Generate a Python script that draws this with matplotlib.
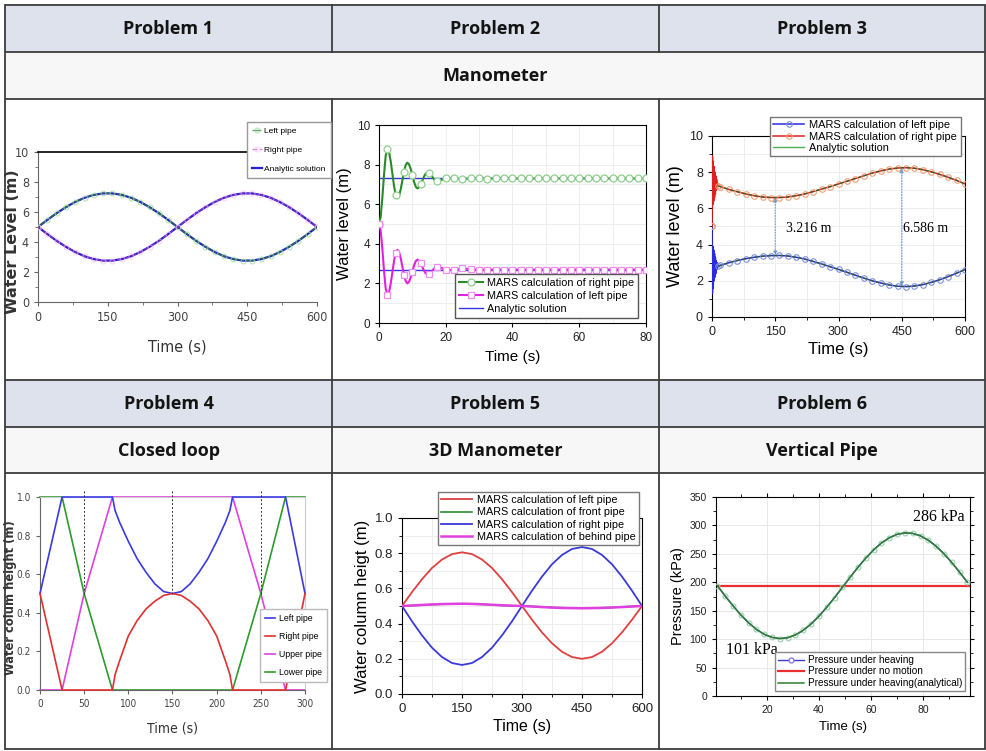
import numpy as np
import matplotlib
matplotlib.use("Agg")
import matplotlib.pyplot as plt
from matplotlib import font_manager as fm
from matplotlib.patches import Rectangle
from matplotlib.ticker import AutoMinorLocator, MultipleLocator

W, H = 987, 751

# ---------------- table texts ----------------
header_row1 = ["Problem 1", "Problem 2", "Problem 3"]
subtitle_row1 = "Manometer"
header_row2 = ["Problem 4", "Problem 5", "Problem 6"]
subtitle_row2 = ["Closed loop", "3D Manometer", "Vertical Pipe"]

# ---------------- Problem 1 ----------------
p1_time = np.arange(0, 601, 20)
p1_left = [5.00, 5.47, 5.92, 6.32, 6.67, 6.95, 7.14, 7.24, 7.24, 7.14, 6.95, 6.67, 6.32, 5.92, 5.47, 5.00,
           4.53, 4.08, 3.68, 3.33, 3.05, 2.86, 2.76, 2.76, 2.86, 3.05, 3.33, 3.68, 4.08, 4.53, 5.00]
p1_right = [5.00, 4.53, 4.08, 3.68, 3.33, 3.05, 2.86, 2.76, 2.76, 2.86, 3.05, 3.33, 3.68, 4.08, 4.53, 5.00,
            5.47, 5.92, 6.32, 6.67, 6.95, 7.14, 7.24, 7.24, 7.14, 6.95, 6.67, 6.32, 5.92, 5.47, 5.00]
p1_xticks = [0, 150, 300, 450, 600]
p1_yticks = [0, 2, 4, 6, 8, 10]

# ---------------- Problem 2 ----------------
p2_time = np.concatenate([np.arange(0, 20.01, 0.5), np.arange(22.5, 80.01, 2.5)])
p2_right = [5.0, 5.36, 6.31, 7.49, 8.44, 8.8, 8.63, 8.18, 7.55, 6.93, 6.47, 6.3, 6.42, 6.75, 7.2, 7.65,
            7.98, 8.1, 8.01, 7.78, 7.45, 7.13, 6.89, 6.8, 6.85, 7.0, 7.2, 7.4, 7.55, 7.6, 7.57, 7.49,
            7.38, 7.26, 7.18, 7.15, 7.16, 7.2, 7.25, 7.29, 7.3,
            7.33, 7.26, 7.3, 7.31, 7.29, 7.3, 7.3, 7.3, 7.3, 7.3, 7.3, 7.3, 7.3, 7.3, 7.3, 7.3,
            7.3, 7.3, 7.3, 7.3, 7.3, 7.3, 7.3, 7.3]
p2_left = [5.0, 4.66, 3.76, 2.64, 1.74, 1.4, 1.55, 1.98, 2.55, 3.13, 3.55, 3.7, 3.59, 3.28, 2.85, 2.43,
           2.11, 2.0, 2.08, 2.3, 2.6, 2.9, 3.12, 3.2, 3.15, 3.01, 2.83, 2.64, 2.5, 2.45, 2.48, 2.55,
           2.65, 2.75, 2.82, 2.85, 2.84, 2.8, 2.75, 2.71, 2.7,
           2.66, 2.76, 2.71, 2.69, 2.7, 2.7, 2.7, 2.7, 2.7, 2.7, 2.7, 2.7, 2.7, 2.7, 2.7, 2.7,
           2.7, 2.7, 2.7, 2.7, 2.7, 2.7, 2.7, 2.7]
p2_analytic_time = [0, 80]
p2_analytic_right = [7.3, 7.3]
p2_analytic_left = [2.7, 2.7]

# ---------------- Problem 3 ----------------
p3_time = np.concatenate([np.arange(0, 16), np.arange(20, 601, 20)])
p3_right = [5.0, 8.9, 6.2, 8.6, 6.4, 8.3, 6.6, 8.0, 6.8, 7.8, 7.0, 7.6, 7.1, 7.4, 7.2, 7.25,
            7.2, 7.05, 6.92, 6.8, 6.7, 6.63, 6.6, 6.6, 6.63, 6.7, 6.8, 6.93, 7.07, 7.2, 7.35,
            7.5, 7.65, 7.8, 7.95, 8.07, 8.17, 8.23, 8.25, 8.22, 8.14, 8.02, 7.88, 7.72, 7.55, 7.35]
p3_left = [5.0, 1.3, 3.9, 1.6, 3.7, 2.0, 3.5, 2.2, 3.3, 2.4, 3.1, 2.6, 3.0, 2.7, 2.9, 2.8,
           2.85, 3.0, 3.12, 3.22, 3.3, 3.36, 3.39, 3.4, 3.37, 3.3, 3.2, 3.07, 2.93, 2.78, 2.63,
           2.47, 2.31, 2.15, 2.0, 1.88, 1.77, 1.7, 1.68, 1.71, 1.79, 1.91, 2.06, 2.23, 2.42, 2.62]
p3_gap_time = [150, 450]
p3_gap_top = [6.6, 8.22]
p3_gap_bottom = [3.4, 1.7]
p3_gap_text = ["3.216 m", "6.586 m"]
p3_gap_text_x = [175, 453]

# ---------------- Problem 4 ----------------
p4_lr_time = [0, 25, 82, 85, 90, 100, 110, 120, 130, 140, 150, 160, 170, 180, 190, 200, 210, 215, 218, 278, 300]
p4_left = [0.5, 1.0, 1.0, 0.93, 0.87, 0.77, 0.68, 0.61, 0.55, 0.51, 0.5, 0.51, 0.55, 0.61, 0.68, 0.77, 0.87, 0.93, 1.0, 1.0, 0.5]
p4_right = [0.5, 0.0, 0.0, 0.08, 0.15, 0.28, 0.36, 0.42, 0.46, 0.49, 0.5, 0.49, 0.46, 0.42, 0.36, 0.28, 0.15, 0.08, 0.0, 0.0, 0.5]
p4_ul_time = [0, 25, 50, 82, 218, 250, 278, 300]
p4_upper = [0.0, 0.0, 0.5, 1.0, 1.0, 0.5, 0.0, 0.0]
p4_lower = [1.0, 1.0, 0.5, 0.0, 0.0, 0.5, 1.0, 1.0]
p4_marks = [50, 150, 250]

# ---------------- Problem 5 ----------------
p5_time = np.arange(0, 601, 25)
p5_left = [0.5, 0.579, 0.652, 0.716, 0.764, 0.795, 0.805, 0.795, 0.764, 0.716, 0.652, 0.579, 0.5,
           0.422, 0.35, 0.288, 0.24, 0.21, 0.2, 0.21, 0.24, 0.288, 0.35, 0.422, 0.5]
p5_front = [0.5, 0.502, 0.505, 0.508, 0.51, 0.511, 0.512, 0.511, 0.509, 0.506, 0.503, 0.501, 0.5,
            0.498, 0.495, 0.492, 0.49, 0.489, 0.488, 0.489, 0.49, 0.492, 0.495, 0.498, 0.5]
p5_right = [0.5, 0.413, 0.333, 0.263, 0.21, 0.176, 0.165, 0.176, 0.21, 0.263, 0.333, 0.413, 0.5,
            0.587, 0.667, 0.737, 0.79, 0.824, 0.835, 0.824, 0.79, 0.737, 0.667, 0.587, 0.5]
p5_behind = [0.5, 0.503, 0.506, 0.509, 0.511, 0.512, 0.513, 0.512, 0.51, 0.507, 0.504, 0.502, 0.5,
             0.497, 0.494, 0.491, 0.489, 0.488, 0.487, 0.488, 0.489, 0.491, 0.494, 0.497, 0.5]

# ---------------- Problem 6 ----------------
p6_time = np.arange(1, 98, 3)
p6_heaving = [194.0, 176.0, 158.8, 142.8, 128.8, 117.2, 108.5, 103.1, 101.0, 102.5, 107.4, 115.6, 126.7,
              140.3, 156.0, 173.1, 190.9, 209.0, 226.4, 242.5, 257.0, 269.1, 278.2, 284.3, 286.9, 286.0,
              281.7, 274.0, 263.4, 250.1, 234.8, 217.8, 200.0]
p6_static_time = [0.5, 98]
p6_static = [194, 194]
p6_labels = [(76, 315, "286 kPa"), (4.4, 81, "101 kPa")]

# ---------------- fonts ----------------
ARIAL = ["Liberation Sans", "DejaVu Sans"]
SERIF = ["Liberation Serif", "DejaVu Serif"]
HEAD = ["Open Sans", "DejaVu Sans"]
WIDE = ["DejaVu Sans"]

# look for an installed condensed / narrow sans face (falls back to Liberation Sans)
NARROW_FILE = None
for f in fm.fontManager.ttflist:
    fn = f.fname.lower()
    if ("narrow" in fn or "condensed" in fn) and f.style == "normal" and f.weight in (400, "normal", "regular"):
        if "mono" not in fn and "serif" not in fn.replace("sans", ""):
            NARROW_FILE = f.fname
            break


def narrow_props(size):
    if NARROW_FILE is not None:
        return fm.FontProperties(fname=NARROW_FILE, size=size)
    return fm.FontProperties(family=ARIAL, size=size * 0.88)


def px_rect(l, t, r, b):
    return [l / W, 1 - b / H, (r - l) / W, (b - t) / H]


def fpt(x, y):
    return (x / W, 1 - y / H)


def style_ticks(ax, family, size, color="black"):
    for lab in ax.get_xticklabels() + ax.get_yticklabels():
        lab.set_fontfamily(family)
        lab.set_fontsize(size)
        lab.set_color(color)


def style_ticks_narrow(ax, size, color):
    for lab in ax.get_xticklabels() + ax.get_yticklabels():
        lab.set_fontproperties(narrow_props(size))
        lab.set_color(color)


fig = plt.figure(figsize=(W / 100, H / 100), dpi=100)

# ---------------- table background ----------------
bg = fig.add_axes([0, 0, 1, 1])
bg.set_xlim(0, W)
bg.set_ylim(H, 0)
bg.axis("off")
L, R = 5, 985
HEAD_FILL = "#dde2ec"
SUB_FILL = "#f7f7f7"
for (y0, y1, c) in [(5, 52, HEAD_FILL), (52, 99, SUB_FILL), (380, 427, HEAD_FILL), (427, 473, SUB_FILL)]:
    bg.add_patch(Rectangle((L, y0), R - L, y1 - y0, facecolor=c, edgecolor="none"))
LC = "#3c3c3c"
for y in [5, 52, 99, 380, 427, 473, 749]:
    bg.plot([L, R], [y, y], color=LC, lw=1.3, solid_capstyle="butt")
for x in [L, R]:
    bg.plot([x, x], [5, 749], color=LC, lw=1.3)
for x in [332, 659]:
    bg.plot([x, x], [5, 52], color=LC, lw=1.3)
    bg.plot([x, x], [99, 749], color=LC, lw=1.3)
col_c = [168.5, 495.5, 822]
hkw = dict(ha="center", va="center", fontsize=13, fontweight="bold", family=HEAD, color="#141414")
for i in range(3):
    bg.text(col_c[i], 29, header_row1[i], **hkw)
    bg.text(col_c[i], 404, header_row2[i], **hkw)
    bg.text(col_c[i], 451, subtitle_row2[i], **hkw)
bg.text(495, 76, subtitle_row1, **hkw)

# ---------------- Problem 1 ----------------
ax1 = fig.add_axes(px_rect(38, 152, 317, 302))
ax1.plot(p1_time, p1_left, color="#2020c8", lw=1.6, zorder=2)
ax1.plot(p1_time, p1_right, color="#2020c8", lw=1.6, zorder=2)
l1, = ax1.plot(p1_time, p1_left, color="#2e7d32", ls="-.", lw=1.0, marker="o", ms=3.5,
               mfc="none", mec="#9fdca0", mew=0.8, alpha=0.75, zorder=3)
l2, = ax1.plot(p1_time, p1_right, color="#d030d0", ls="--", lw=1.0, marker="o", ms=3.5,
               mfc="none", mec="#f2b8f2", mew=0.8, alpha=0.6, zorder=3)
l3 = plt.Line2D([], [], color="#2020c8", lw=1.6)
ax1.set_xlim(p1_xticks[0], p1_xticks[-1])
ax1.set_ylim(p1_yticks[0], p1_yticks[-1])
ax1.set_xticks(p1_xticks)
ax1.set_yticks(p1_yticks)
ax1.xaxis.set_minor_locator(AutoMinorLocator(2))
ax1.yaxis.set_minor_locator(AutoMinorLocator(2))
ax1.spines["right"].set_visible(False)
ax1.spines["top"].set_color("black")
ax1.spines["top"].set_linewidth(1.2)
for s in ["left", "bottom"]:
    ax1.spines[s].set_color("#666666")
ax1.tick_params(colors="#666666", length=3, width=0.8)
ax1.tick_params(which="minor", length=2, colors="#666666")
style_ticks_narrow(ax1, 9, "#444444")
ax1.set_ylabel("Water Level (m)", fontsize=11.5, fontweight="bold", family=WIDE, color="#333333")
ax1.yaxis.set_label_coords(-0.063, 0.4)
ax1.set_xlabel("Time (s)", fontproperties=narrow_props(11.5), color="#333333")
ax1.xaxis.set_label_coords(0.5, -0.25)
ax1.legend([l1, l2, l3], ["Left pipe", "Right pipe", "Analytic solution"], loc="upper left",
           bbox_to_anchor=fpt(247, 122), bbox_transform=fig.transFigure, borderaxespad=0,
           prop={"family": ARIAL, "size": 6.0}, labelspacing=1.35, handlelength=1.2, handletextpad=0.3,
           borderpad=0.6, fancybox=False, edgecolor="#999999", framealpha=1)

# ---------------- Problem 2 ----------------
ax2 = fig.add_axes(px_rect(379, 125, 646, 323))
mk2 = np.where(np.isclose(np.mod(p2_time, 2.5), 0))[0].tolist()
ax2.plot(p2_analytic_time, p2_analytic_right, color="#3434e0", lw=1.0, zorder=2)
ax2.plot(p2_analytic_time, p2_analytic_left, color="#3434e0", lw=1.0, zorder=2)
m1, = ax2.plot(p2_time, p2_right, color="#2a8a2a", lw=1.5, marker="o", ms=5, mfc="white",
               mec="#8fd08f", mew=0.9, markevery=mk2, zorder=3)
m2, = ax2.plot(p2_time, p2_left, color="#e020e0", lw=1.5, marker="s", ms=4.5, mfc="white",
               mec="#f08cf0", mew=0.9, markevery=mk2, zorder=3)
m3 = plt.Line2D([], [], color="#3434e0", lw=1.0)
ax2.set_xlim(0, 80)
ax2.set_ylim(0, 10)
ax2.set_xticks([0, 20, 40, 60, 80])
ax2.set_yticks([0, 2, 4, 6, 8, 10])
ax2.xaxis.set_minor_locator(MultipleLocator(10))
ax2.yaxis.set_minor_locator(MultipleLocator(1))
ax2.grid(True, which="both", color="#eeeeee", lw=0.7)
ax2.set_axisbelow(True)
ax2.tick_params(length=3, width=0.8)
ax2.tick_params(which="minor", length=0)
style_ticks(ax2, ARIAL, 8.5, "#222222")
ax2.set_ylabel("Water level (m)", fontsize=12, family=ARIAL)
ax2.yaxis.set_label_coords(-0.1, 0.5)
ax2.set_xlabel("Time (s)", fontsize=11, family=ARIAL, labelpad=4)
ax2.legend([m1, m2, m3], ["MARS calculation of right pipe", "MARS calculation of left pipe", "Analytic solution"],
           loc="upper left", bbox_to_anchor=fpt(455, 274), bbox_transform=fig.transFigure, borderaxespad=0,
           prop={"family": ARIAL, "size": 7.8}, labelspacing=0.3, handlelength=2.2, handletextpad=0.4,
           borderpad=0.35, fancybox=False, edgecolor="#555555", framealpha=1)

# ---------------- Problem 3 ----------------
ax3 = fig.add_axes(px_rect(712, 136, 965, 317))
mk3 = [0] + list(range(15, len(p3_time)))
n1, = ax3.plot(p3_time, p3_left, color="#2a2ae0", lw=1.1, marker="o", ms=4, mfc="none",
               mec="#7f90d8", mew=0.8, markevery=mk3, zorder=3)
n2, = ax3.plot(p3_time, p3_right, color="#e02020", lw=1.1, marker="o", ms=4, mfc="none",
               mec="#f0a070", mew=0.8, markevery=mk3, zorder=3)
n3, = ax3.plot(p3_time[15:], p3_left[15:], color="#2f5f2f", lw=0.9, ls=(0, (3, 2)), zorder=4)
ax3.plot(p3_time[15:], p3_right[15:], color="#2f5f2f", lw=0.9, ls=(0, (3, 2)), zorder=4)
n3leg = plt.Line2D([], [], color="#4caf50", lw=1.0)
for i in range(2):
    ax3.annotate("", xy=(p3_gap_time[i], p3_gap_bottom[i]), xytext=(p3_gap_time[i], p3_gap_top[i]),
                 arrowprops=dict(arrowstyle="<|-|>", ls=(0, (1, 1.5)), color="#6a9ad0", lw=0.8,
                                 mutation_scale=6, shrinkA=0, shrinkB=0))
    ax3.text(p3_gap_text_x[i], 4.9, p3_gap_text[i], family=SERIF, fontsize=10, va="center", ha="left")
ax3.set_xlim(0, 600)
ax3.set_ylim(0, 10)
ax3.set_xticks([0, 150, 300, 450, 600])
ax3.set_yticks([0, 2, 4, 6, 8, 10])
ax3.xaxis.set_minor_locator(MultipleLocator(75))
ax3.yaxis.set_minor_locator(MultipleLocator(1))
ax3.grid(True, which="both", color="#eeeeee", lw=0.7)
ax3.set_axisbelow(True)
ax3.tick_params(length=3, width=0.8)
ax3.tick_params(which="minor", length=2)
style_ticks(ax3, ARIAL, 9, "#222222")
ax3.set_ylabel("Water level (m)", fontsize=13, family=ARIAL)
ax3.yaxis.set_label_coords(-0.11, 0.5)
ax3.set_xlabel("Time (s)", fontsize=12, family=ARIAL, labelpad=3)
ax3.legend([n1, n2, n3leg], ["MARS calculation of left pipe", "MARS calculation of right pipe", "Analytic solution"],
           loc="upper left", bbox_to_anchor=fpt(770, 117), bbox_transform=fig.transFigure, borderaxespad=0,
           prop={"family": ARIAL, "size": 7.9}, labelspacing=0.12, handlelength=2.8, handletextpad=0.5,
           borderpad=0.3, fancybox=False, edgecolor="#777777", framealpha=1)

# ---------------- Problem 4 ----------------
ax4 = fig.add_axes(px_rect(40, 497, 305, 690))
q1, = ax4.plot(p4_lr_time, p4_left, color="#3a3ae0", lw=1.2, clip_on=False, zorder=3)
q2, = ax4.plot(p4_lr_time, p4_right, color="#e03030", lw=1.2, clip_on=False, zorder=3)
q3, = ax4.plot(p4_ul_time, p4_upper, color="#e040e0", lw=1.2, clip_on=False, zorder=2)
q4, = ax4.plot(p4_ul_time, p4_lower, color="#2e9a2e", lw=1.2, clip_on=False, zorder=2)
ax4.vlines(p4_marks, 0.5, 1.035, colors="#333333", linestyles=(0, (2, 2)), lw=0.7, clip_on=False, zorder=4)
ax4.set_xlim(0, 300)
ax4.set_ylim(0, 1.0)
ax4.set_xticks([0, 50, 100, 150, 200, 250, 300])
ax4.set_yticks([0.0, 0.2, 0.4, 0.6, 0.8, 1.0])
ax4.set_yticklabels(["0.0", "0.2", "0.4", "0.6", "0.8", "1.0"])
for s in ["top", "right"]:
    ax4.spines[s].set_color("#cccccc")
for s in ["left", "bottom"]:
    ax4.spines[s].set_color("#666666")
ax4.tick_params(colors="#666666", length=3, width=0.8)
style_ticks_narrow(ax4, 7.2, "#444444")
ax4.set_ylabel("Water colum height (m)", fontsize=8.3, fontweight="bold", family=WIDE, color="#333333")
ax4.yaxis.set_label_coords(-0.088, 0.48)
ax4.set_xlabel("Time (s)", fontproperties=narrow_props(10), color="#333333")
ax4.xaxis.set_label_coords(0.5, -0.165)
ax4.legend([q1, q2, q3, q4], ["Left pipe", "Right pipe", "Upper pipe", "Lower pipe"],
           loc="upper left", bbox_to_anchor=fpt(260, 609), bbox_transform=fig.transFigure, borderaxespad=0,
           prop={"family": ARIAL, "size": 6.3}, labelspacing=1.05, handlelength=1.2, handletextpad=0.4,
           borderpad=0.55, fancybox=False, edgecolor="#bbbbbb", framealpha=1)

# ---------------- Problem 5 ----------------
ax5 = fig.add_axes(px_rect(402, 518, 642, 694))
r2, = ax5.plot(p5_time, p5_front, color="#2e8b2e", lw=1.2, zorder=2)
r1, = ax5.plot(p5_time, p5_left, color="#e04040", lw=1.3, zorder=3)
r3, = ax5.plot(p5_time, p5_right, color="#3a3ad8", lw=1.3, zorder=3)
r4, = ax5.plot(p5_time, p5_behind, color="#e040e0", lw=1.8, zorder=3)
ax5.set_xlim(0, 600)
ax5.set_ylim(0, 1.0)
ax5.set_xticks([0, 150, 300, 450, 600])
ax5.set_yticks([0.0, 0.2, 0.4, 0.6, 0.8, 1.0])
ax5.set_yticklabels(["0.0", "0.2", "0.4", "0.6", "0.8", "1.0"])
ax5.xaxis.set_minor_locator(MultipleLocator(75))
ax5.yaxis.set_minor_locator(MultipleLocator(0.1))
ax5.grid(True, which="both", color="#eeeeee", lw=0.7)
ax5.set_axisbelow(True)
ax5.tick_params(length=3, width=0.8)
ax5.tick_params(which="minor", length=2)
style_ticks(ax5, ARIAL, 9.5, "#222222")
ax5.set_ylabel("Water column heigt (m)", fontsize=12, family=ARIAL)
ax5.yaxis.set_label_coords(-0.135, 0.5)
ax5.set_xlabel("Time (s)", fontsize=11.5, family=ARIAL, labelpad=3)
ax5.legend([r1, r2, r3, r4], ["MARS calculation of left pipe", "MARS calculation of front pipe",
                              "MARS calculation of right pipe", "MARS calculation of behind pipe"],
           loc="upper left", bbox_to_anchor=fpt(438, 492), bbox_transform=fig.transFigure, borderaxespad=0,
           prop={"family": ARIAL, "size": 7.8}, labelspacing=0.2, handlelength=2.8, handletextpad=0.5,
           borderpad=0.3, fancybox=False, edgecolor="#777777", framealpha=1)

# ---------------- Problem 6 ----------------
ax6 = fig.add_axes(px_rect(716, 497, 970, 696))
s1, = ax6.plot(p6_time, p6_heaving, color="#3a3ad0", lw=1.0, marker="o", ms=3.5, mfc="none",
               mec="#9acfae", mew=0.8, zorder=3)
s2, = ax6.plot(p6_static_time, p6_static, color="#e83030", lw=1.6, zorder=2)
s3, = ax6.plot(p6_time, p6_heaving, color="#2e7d32", lw=1.1, zorder=4)
s1leg = plt.Line2D([], [], color="#3a3ad0", lw=1.0, marker="o", ms=3.5, mfc="white", mec="#8a7ad8")
for (x, y, t) in p6_labels:
    ax6.text(x, y, t, family=SERIF, fontsize=11.5, ha="left", va="center")
ax6.set_xlim(0.5, 98)
ax6.set_ylim(0, 350)
ax6.set_xticks([20, 40, 60, 80])
ax6.set_yticks(np.arange(0, 351, 50))
ax6.xaxis.set_minor_locator(MultipleLocator(10))
ax6.yaxis.set_minor_locator(MultipleLocator(25))
ax6.grid(True, which="major", color="#e8e8e8", lw=0.7)
ax6.set_axisbelow(True)
ax6.tick_params(length=3, width=0.8, top=True, right=True)
ax6.tick_params(which="minor", length=2, top=True, right=True)
style_ticks(ax6, ARIAL, 7.5, "#222222")
ax6.set_ylabel("Pressure (kPa)", fontsize=10.5, family=ARIAL, labelpad=3)
ax6.set_xlabel("Time (s)", fontsize=9.5, family=ARIAL, labelpad=4)
ax6.legend([s1leg, s2, s3], ["Pressure under heaving", "Pressure under no motion",
                             "Pressure under heaving(analytical)"],
           loc="upper left", bbox_to_anchor=fpt(775, 652), bbox_transform=fig.transFigure, borderaxespad=0,
           prop={"family": ARIAL, "size": 7.2}, labelspacing=0.15, handlelength=2.6, handletextpad=0.4,
           borderpad=0.3, fancybox=False, edgecolor="#888888", framealpha=1)

fig.savefig("out.png", dpi=100)
